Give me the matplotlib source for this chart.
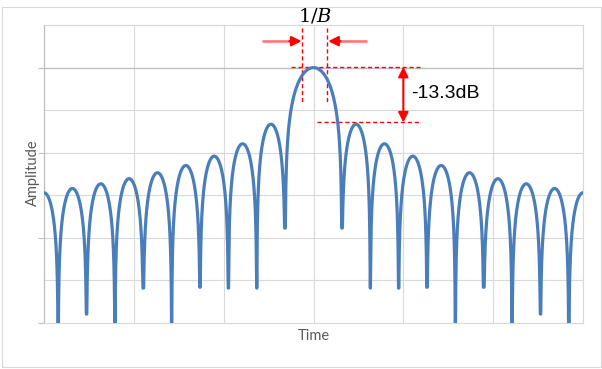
import numpy as np
import matplotlib
matplotlib.use('Agg')
from matplotlib import pyplot as plt
from matplotlib.patches import Rectangle

# lobes between nulls (time in units of 1/B), peak level of each lobe in dB
lobe_start = [-10, -9, -8, -7, -6, -5, -4, -3, -2, -1, 1, 2, 3, 4, 5, 6, 7, 8, 9]
lobe_end = [-9, -8, -7, -6, -5, -4, -3, -2, -1, 1, 2, 3, 4, 5, 6, 7, 8, 9, 10]
lobe_peak_db = [-29.4, -28.4, -27.3, -26.1, -24.7, -23.0, -20.8, -17.9, -13.3,
                0.0,
                -13.3, -17.9, -20.8, -23.0, -24.7, -26.1, -27.3, -28.4, -29.4]
# depth reached at each null (None = runs off the bottom of the axis)
null_t = [-10, -9, -8, -7, -6, -5, -4, -3, -2, -1, 1, 2, 3, 4, 5, 6, 7, 8, 9, 10]
null_floor_db = [None, None, -57.9, None, -51.8, None, -51.6, -51.8, -51.8, -37.7,
                 -37.7, -51.8, -51.8, -51.6, None, -51.6, None, -57.9, None, None]

blue = '#4A7EBB'
red = '#FF0000'
grey_txt = '#595959'


def floor_at(t):
    f = null_floor_db[null_t.index(t)]
    return -120.0 if f is None else f


def build_curve():
    ts, ys = [], []
    for a, b, p in zip(lobe_start, lobe_end, lobe_peak_db):
        t = np.linspace(a, b, 400)
        u = (t - a) / (b - a)
        with np.errstate(divide='ignore'):
            y = p + 20 * np.log10(np.abs(np.sin(np.pi * u)))
        fl = np.where(u < 0.5, floor_at(a), floor_at(b))
        y = np.maximum(y, fl)
        ts.append(t)
        ys.append(y)
    return np.concatenate(ts), np.concatenate(ys)


def setup_figure():
    fig = plt.figure(figsize=(6.02, 3.69), dpi=100)
    ax = fig.add_axes([44/602, 1-323/369, (583-44)/602, (323-25)/369])
    fig.patches.append(Rectangle((2/602, 2/369), 599/602, 360/369,
                                 transform=fig.transFigure, fill=False,
                                 ec='#D9D9D9', lw=0.8))
    ax.set_xlim(-9.5, 9.5)
    ax.set_ylim(-60, 10)
    ax.set_xticks(np.linspace(-9.5, 9.5, 7))
    ax.set_yticks([-60, -40, -20, 0])
    ax.set_yticks([-50, -30, -10, 10], minor=True)
    ax.grid(True, which='both', color='#D9D9D9', lw=0.8)
    ax.axhline(0, color='#BFBFBF', lw=0.9, zorder=1)
    ax.set_xticklabels([])
    ax.set_yticklabels([])
    ax.tick_params(axis='x', length=0)
    ax.tick_params(axis='y', which='major', length=4, color='#BFBFBF', width=0.8)
    ax.tick_params(axis='y', which='minor', length=0)
    for s in ['top', 'right', 'bottom']:
        ax.spines[s].set_color('#D9D9D9')
        ax.spines[s].set_linewidth(0.8)
    ax.spines['left'].set_color('#BFBFBF')
    ax.spines['left'].set_linewidth(0.9)
    ax.set_axisbelow(True)
    ax.text(0.5, -0.045, 'Time', family='Lato', size=10.5, color=grey_txt,
            ha='center', va='center', transform=ax.transAxes)
    ax.text(-0.021, 0.505, 'Amplitude', family='Lato', size=10.5, color=grey_txt,
            rotation=90, ha='center', va='center', transform=ax.transAxes)
    return fig, ax


def annotate(ax):
    dash = dict(color=red, lw=1, ls=(0, (3, 2)))
    ax.plot([-0.39, -0.39], [9.3, -8.3], **dash)
    ax.plot([0.49, 0.49], [9.3, -8.3], **dash)
    ax.plot([-0.78, 3.77], [0.2, 0.2], **dash)
    ax.plot([0.14, 3.77], [-12.9, -12.9], **dash)
    # horizontal arrows pointing at the 1/B width
    ax.plot([-1.83, -0.8], [6.2, 6.2], color='#FF7C80', lw=2, solid_capstyle='butt')
    ax.plot([1.9, 0.9], [6.2, 6.2], color='#FF7C80', lw=2, solid_capstyle='butt')
    hd = dict(arrowstyle='-|>,head_length=0.6,head_width=0.3', color=red, lw=1.5,
              shrinkA=0, shrinkB=0)
    ax.annotate('', xy=(-0.42, 6.2), xytext=(-0.85, 6.2), arrowprops=hd)
    ax.annotate('', xy=(0.52, 6.2), xytext=(0.95, 6.2), arrowprops=hd)
    # vertical double arrow for the first sidelobe level
    dbl = dict(arrowstyle='<|-|>,head_length=0.6,head_width=0.3', color=red, lw=1.5,
               shrinkA=0, shrinkB=0)
    ax.annotate('', xy=(3.1667, 0.2), xytext=(3.1667, -12.9), arrowprops=dbl)
    ax.text(3.43, -6.2, '-13.3dB', family='Liberation Sans', size=14,
            ha='left', va='center')
    ax.text(0.05, 12.1, r'$1/B$', size=14, ha='center', va='center',
            math_fontfamily='dejavuserif', clip_on=False)


def main():
    plt.rcParams['mathtext.fontset'] = 'dejavuserif'
    fig, ax = setup_figure()
    t, y = build_curve()
    ax.plot(t, y, color=blue, lw=2.3, solid_joinstyle='round', zorder=3)
    annotate(ax)
    fig.savefig('out.png', dpi=100)


main()
